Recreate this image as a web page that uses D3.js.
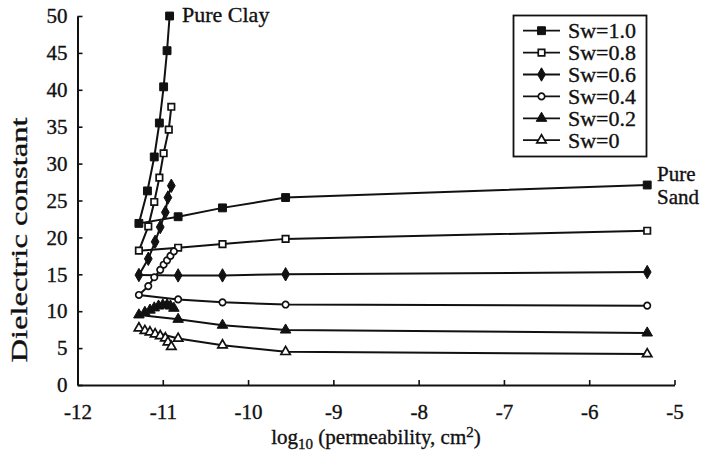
<!DOCTYPE html>
<html>
<head>
<meta charset="utf-8">
<script src="https://cdn.jsdelivr.net/npm/d3@7"></script>
<style>
  html, body { margin: 0; padding: 0; background: #fff; }
  svg { display: block; }
  svg text { font-family: "Liberation Serif", "Times New Roman", Times, serif !important; fill: #111; stroke: #111; stroke-width: 0.35px; }
</style>
</head>
<body>
<svg id="chart" width="705" height="451"></svg>
<script>
// Water saturation levels (legend labels)
const series = ["Sw=1.0", "Sw=0.8", "Sw=0.6", "Sw=0.4", "Sw=0.2", "Sw=0"];
const markerKinds = ["squareFilled", "squareOpen", "diamondFilled", "circleOpen", "triangleFilled", "triangleOpen"];

// Sand-mixing branch: log10 permeability shared by all saturations
const sandLogK = [-11.28, -10.82, -10.30, -9.56, -5.32];
const sandSw10 = [21.9, 22.8, 24.0, 25.4, 27.1];
const sandSw08 = [18.2, 18.6, 19.1, 19.8, 20.9];
const sandSw06 = [14.9, 14.85, 14.85, 15.0, 15.3];
const sandSw04 = [12.2, 11.6, 11.2, 10.9, 10.75];
const sandSw02 = [9.5, 8.9, 8.1, 7.45, 7.05];
const sandSw00 = [7.7, 6.3, 5.4, 4.5, 4.2];

// Clay-mixing branch: log10 permeability and dielectric constant
const clayLogKSw10 = [-11.28, -11.18, -11.10, -11.04, -10.99, -10.95, -10.92];
const claySw10     = [21.9, 26.3, 30.9, 35.5, 40.4, 45.3, 50.0];
const clayLogKSw08 = [-11.28, -11.17, -11.10, -11.04, -10.99, -10.93, -10.90];
const claySw08     = [18.2, 21.5, 24.8, 28.1, 31.4, 34.6, 37.7];
const clayLogKSw06 = [-11.28, -11.17, -11.09, -11.03, -10.97, -10.94, -10.90];
const claySw06     = [14.9, 17.1, 19.4, 21.4, 23.4, 25.4, 27.0];
const clayLogKSw04 = [-11.28, -11.17, -11.10, -11.03, -10.99, -10.95, -10.91, -10.87];
const claySw04     = [12.2, 13.4, 14.6, 15.6, 16.3, 16.9, 17.5, 18.1];
const clayLogKSw02 = [-11.28, -11.21, -11.15, -11.10, -11.05, -11.00, -10.95, -10.91, -10.87];
const claySw02     = [9.5, 9.85, 10.15, 10.45, 10.7, 10.85, 10.85, 10.7, 10.4];
const clayLogKSw00 = [-11.28, -11.21, -11.15, -11.09, -11.03, -10.97, -10.94, -10.90];
const claySw00     = [7.7, 7.35, 7.15, 6.9, 6.65, 6.35, 5.8, 5.2];

const xTicks = [-12, -11, -10, -9, -8, -7, -6, -5];
const yTicks = [0, 5, 10, 15, 20, 25, 30, 35, 40, 45, 50];

const sandY = [sandSw10, sandSw08, sandSw06, sandSw04, sandSw02, sandSw00];
const clayX = [clayLogKSw10, clayLogKSw08, clayLogKSw06, clayLogKSw04, clayLogKSw02, clayLogKSw00];
const clayY = [claySw10, claySw08, claySw06, claySw04, claySw02, claySw00];

const svg = d3.select("#chart");
const x = d3.scaleLinear().domain([-12, -5]).range([77.5, 674.5]);
const y = d3.scaleLinear().domain([0, 50]).range([385, 16]);

// Axes with inward ticks
const gx = svg.append("g").attr("transform", `translate(0,${y(0)})`)
  .call(d3.axisBottom(x).tickValues(xTicks).tickSizeInner(-5).tickSizeOuter(0).tickPadding(19)
    .tickFormat(d => d3.format("d")(d).replace("−", "-")));
const gy = svg.append("g").attr("transform", `translate(${x(-12)},0)`)
  .call(d3.axisLeft(y).tickValues(yTicks).tickSizeInner(-5).tickSizeOuter(0).tickPadding(10));
[gx, gy].forEach(g => {
  g.select(".domain").attr("stroke", "#111").attr("stroke-width", 2);
  g.selectAll(".tick line").attr("stroke", "#111").attr("stroke-width", 1.6);
  g.selectAll(".tick text").attr("font-size", 21);
});

// Axis titles
const xt = svg.append("text").attr("x", 376).attr("y", 444).attr("text-anchor", "middle").attr("font-size", 21);
xt.append("tspan").text("log");
xt.append("tspan").attr("font-size", 15).attr("dy", 5).text("10");
xt.append("tspan").attr("dy", -5).text(" (permeability, cm");
xt.append("tspan").attr("font-size", 15).attr("dy", -7).text("2");
xt.append("tspan").attr("dy", 7).text(")");

svg.append("text")
  .attr("transform", "translate(27,240) rotate(-90)")
  .attr("text-anchor", "middle").attr("font-size", 23)
  .attr("textLength", 245).attr("lengthAdjust", "spacingAndGlyphs")
  .text("Dielectric constant");

// Annotations
svg.append("text").attr("x", 182).attr("y", 22).attr("font-size", 22).text("Pure Clay");
svg.append("text").attr("x", 657).attr("y", 181).attr("font-size", 21).text("Pure");
svg.append("text").attr("x", 657).attr("y", 204).attr("font-size", 21).text("Sand");

// Marker drawing
function drawMarker(g, kind, cx, cy) {
  let type, size, filled;
  switch (kind) {
    case "squareFilled": type = d3.symbolSquare; size = 62; filled = true; break;
    case "squareOpen": type = d3.symbolSquare; size = 42; filled = false; break;
    case "diamondFilled": type = d3.symbolDiamond; size = 52; filled = true; break;
    case "circleOpen": type = d3.symbolCircle; size = 32; filled = false; break;
    case "triangleFilled": type = d3.symbolTriangle; size = 48; filled = true; break;
    default: type = d3.symbolTriangle; size = 38; filled = false;
  }
  g.append("path")
    .attr("transform", `translate(${cx},${cy})`)
    .attr("d", d3.symbol().type(type).size(size)())
    .attr("fill", filled ? "#111" : "#fff")
    .attr("stroke", "#111").attr("stroke-width", filled ? 1 : 1.7);
}

const line = d3.line().x(d => x(d[0])).y(d => y(d[1]));
const plot = svg.append("g");

series.forEach((name, i) => {
  const sandPts = sandLogK.map((k, j) => [k, sandY[i][j]]);
  const clayPts = clayX[i].map((k, j) => [k, clayY[i][j]]);
  [sandPts, clayPts].forEach(pts => {
    plot.append("path").datum(pts).attr("d", line)
      .attr("fill", "none").attr("stroke", "#111").attr("stroke-width", 2);
  });
  [...sandPts, ...clayPts.slice(1)].forEach(p => drawMarker(plot, markerKinds[i], x(p[0]), y(p[1])));
});

// Legend
const legend = svg.append("g");
legend.append("rect").attr("x", 513.5).attr("y", 15.5).attr("width", 133).attr("height", 141)
  .attr("fill", "#fff").attr("stroke", "#111").attr("stroke-width", 1.8);
series.forEach((name, i) => {
  const cy = 30.7 + i * 21.9;
  legend.append("line").attr("x1", 523).attr("x2", 560).attr("y1", cy).attr("y2", cy)
    .attr("stroke", "#111").attr("stroke-width", 1.8);
  drawMarker(legend, markerKinds[i], 541.5, cy);
  legend.append("text").attr("x", 568).attr("y", cy + 7.5).attr("font-size", 22).text(name);
});
</script>
</body>
</html>
